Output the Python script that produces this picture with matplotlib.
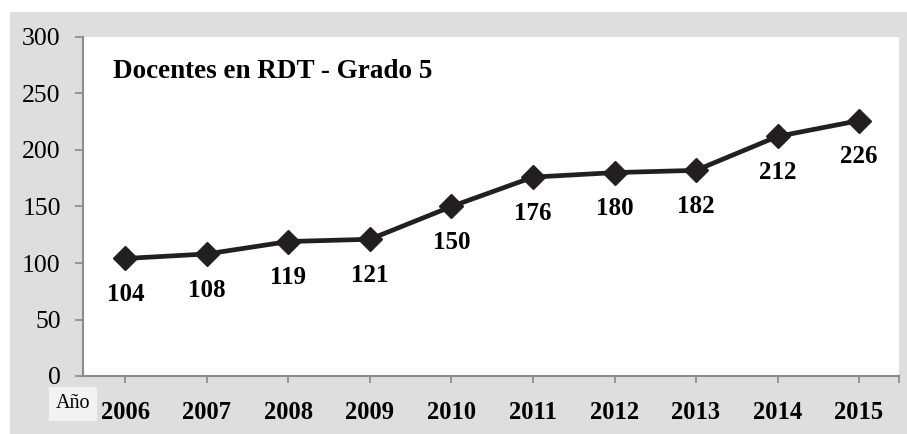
import matplotlib.pyplot as plt
from matplotlib.patches import Rectangle

years = ["2006", "2007", "2008", "2009", "2010", "2011", "2012", "2013", "2014", "2015"]
docentes = [104, 108, 119, 121, 150, 176, 180, 182, 212, 226]

plt.rcParams["font.family"] = ["Liberation Serif", "DejaVu Serif"]

W, H = 907, 434
fig = plt.figure(figsize=(W / 100, H / 100), dpi=100, facecolor="white")

# grey chart area behind the white plot box
fig.patches.append(Rectangle((10 / W, 0), 1, (H - 12) / H, transform=fig.transFigure,
                             facecolor="#dedede", edgecolor="none", zorder=-10))

ax = fig.add_axes([83 / W, 1 - 376 / H, (899 - 83) / W, (376 - 37) / H])
ax.set_facecolor("white")

x = list(range(len(years)))
ax.plot(x, docentes, color="#231f20", linewidth=3.4, marker="D", markersize=12,
        zorder=3, solid_joinstyle="round")

for xi, v in zip(x, docentes):
    ax.annotate(str(v), (xi, v), xytext=(0, -26), textcoords="offset points",
                ha="center", va="center", fontsize=18, fontweight="bold")

ax.set_xlim(-0.52, 9.49)
ax.set_ylim(0, 300)
ax.set_yticks(range(0, 301, 50))
ax.set_xticks(x)
ax.set_xticklabels(years, fontsize=17.7, fontweight="bold")
ax.set_xticks([9.49], minor=True)
ax.tick_params(axis="y", labelsize=18.5, length=6, width=1.2, color="#888888", pad=10)
ax.tick_params(axis="x", which="both", length=5, width=1.2, color="#888888", pad=13)

for side in ("top", "right"):
    ax.spines[side].set_visible(False)
for side in ("left", "bottom"):
    ax.spines[side].set_color("#8c8c8c")
    ax.spines[side].set_linewidth(1.5)

ax.text(0.037, 0.897, "Docentes en RDT - Grado 5", transform=ax.transAxes,
        fontsize=19.5, fontweight="bold", va="center", ha="left")

fig.text(73 / W, 1 - 404 / H, "Año", fontsize=14.5, ha="center", va="center",
         bbox=dict(boxstyle="square,pad=0.35", facecolor="#f2f2f2", edgecolor="none"))

fig.savefig("out.png", dpi=100, facecolor=fig.get_facecolor())
